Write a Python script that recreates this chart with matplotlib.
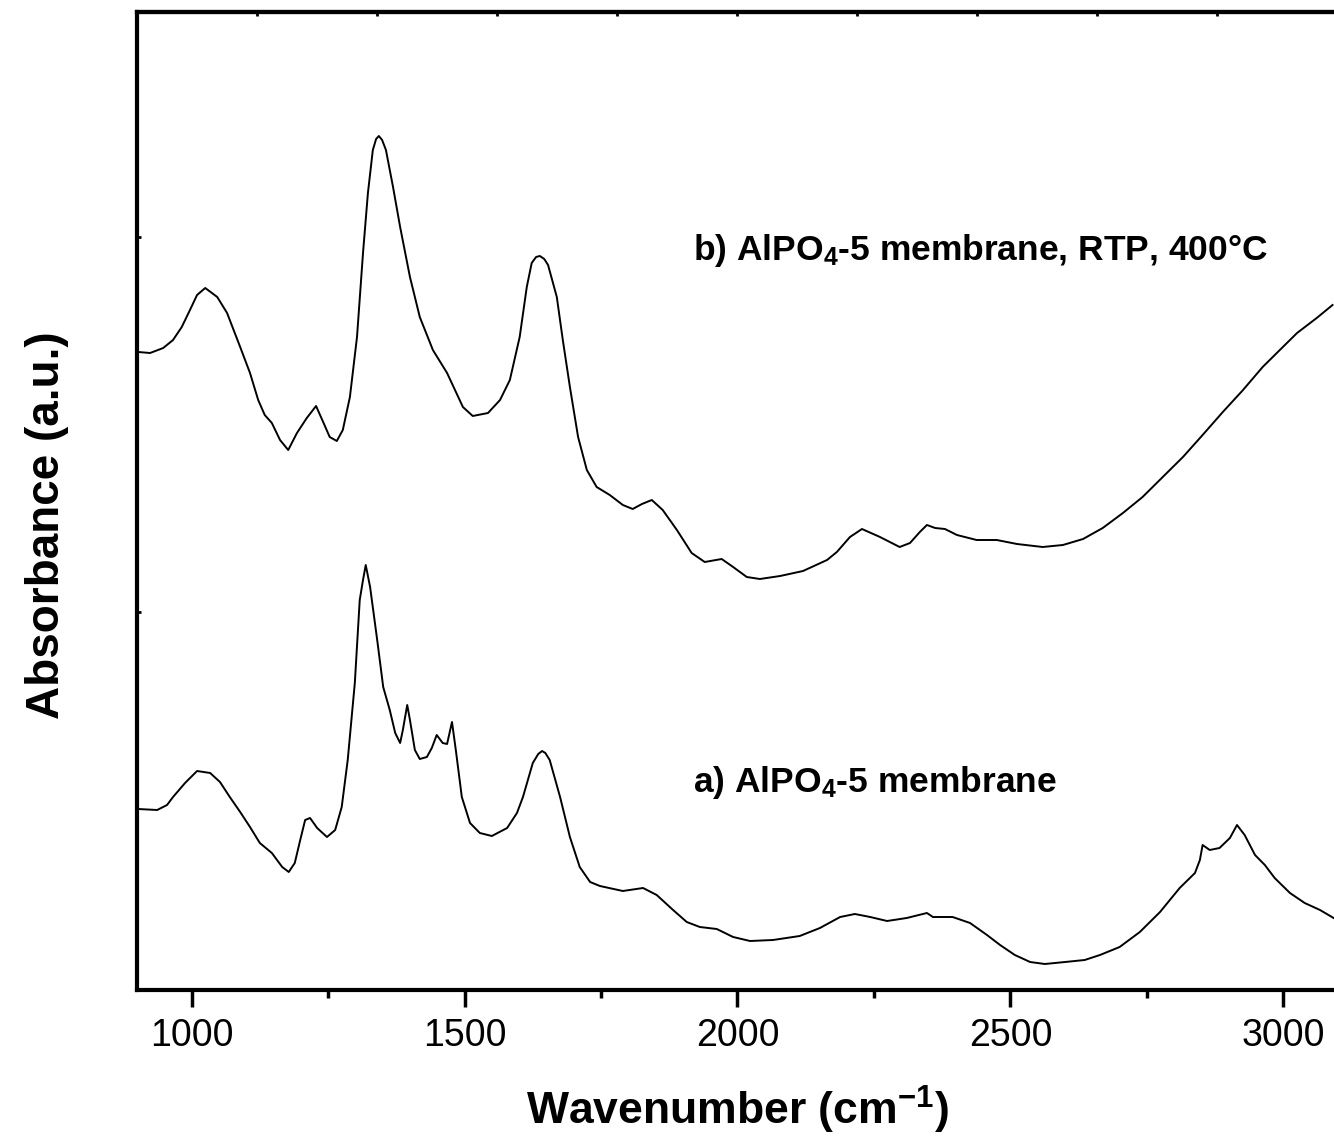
import matplotlib
matplotlib.use("Agg")
import matplotlib.pyplot as plt
from matplotlib.ticker import MultipleLocator, NullFormatter

plt.rcParams['font.family'] = ['Liberation Sans', 'DejaVu Sans']
plt.rcParams['mathtext.fontset'] = 'custom'
plt.rcParams['mathtext.rm'] = 'Liberation Sans:bold'
plt.rcParams['mathtext.bf'] = 'Liberation Sans:bold'
plt.rcParams['mathtext.default'] = 'bf'

# ---- data (wavenumber, absorbance a.u., offset stacked) ----
wn_b = [902, 924, 948, 966, 982, 997, 1010, 1025, 1047, 1065, 1089, 1107, 1122, 1134, 1147, 1162, 1177,
        1193, 1211, 1228, 1241, 1253, 1266, 1277, 1290, 1303, 1314, 1323, 1332, 1338, 1343, 1349, 1356, 1369, 1382,
        1400, 1418, 1442, 1468, 1497, 1515, 1543, 1565, 1583, 1601, 1614, 1623, 1631, 1638, 1646, 1653, 1669, 1680,
        1693, 1708, 1724, 1742, 1766, 1790, 1808, 1825, 1843, 1863, 1889, 1916, 1940, 1971, 1992, 2017,
        2041, 2078, 2120, 2164, 2182, 2206, 2228, 2261, 2297, 2316, 2334, 2347, 2362, 2380, 2402, 2438,
        2475, 2512, 2559, 2596, 2633, 2669, 2706, 2742, 2779, 2816, 2852, 2889, 2926, 2962, 2999, 3025,
        3061, 3090]
abs_b = [6.38, 6.37, 6.42, 6.50, 6.63, 6.80, 6.95, 7.02, 6.93, 6.77, 6.43, 6.17, 5.90, 5.75, 5.67, 5.50, 5.40,
         5.57, 5.72, 5.84, 5.68, 5.53, 5.49, 5.60, 5.93, 6.53, 7.37, 7.97, 8.40, 8.51, 8.54, 8.50, 8.40, 8.03, 7.63,
         7.13, 6.73, 6.40, 6.17, 5.83, 5.74, 5.77, 5.90, 6.10, 6.53, 7.03, 7.27, 7.33, 7.34, 7.31, 7.25, 6.93, 6.50,
         6.03, 5.53, 5.20, 5.03, 4.95, 4.85, 4.81, 4.86, 4.90, 4.80, 4.60, 4.37, 4.28, 4.31, 4.23, 4.13,
         4.11, 4.14, 4.19, 4.30, 4.38, 4.53, 4.61, 4.53, 4.43, 4.47, 4.58, 4.65, 4.62, 4.61, 4.55, 4.50,
         4.50, 4.46, 4.43, 4.45, 4.51, 4.62, 4.77, 4.93, 5.13, 5.33, 5.55, 5.78, 6.00, 6.23, 6.43, 6.57,
         6.72, 6.85]

wn_a = [902, 937, 955, 966, 988, 1010, 1034, 1052, 1070, 1089, 1107, 1125, 1147, 1166, 1178, 1189, 1199,
        1208, 1217, 1230, 1248, 1263, 1275, 1286, 1299, 1308, 1314, 1319, 1327, 1340, 1351, 1363, 1373,
        1382, 1387, 1395, 1400, 1409, 1418, 1431, 1440, 1449, 1460, 1468, 1477, 1484, 1495, 1510, 1528,
        1550, 1578, 1596, 1607, 1625, 1635, 1642, 1648, 1656, 1675, 1693, 1711, 1730, 1748, 1790, 1827, 1852, 1882,
        1907, 1931, 1962, 1992, 2023, 2065, 2114, 2151, 2188, 2215, 2243, 2274, 2310, 2347, 2358, 2394,
        2426, 2457, 2481, 2508, 2536, 2563, 2600, 2636, 2664, 2700, 2737, 2774, 2810, 2838, 2847, 2852,
        2865, 2883, 2902, 2915, 2929, 2948, 2966, 2984, 3012, 3039, 3067, 3092]
abs_a = [1.81, 1.80, 1.85, 1.93, 2.07, 2.19, 2.17, 2.08, 1.93, 1.78, 1.63, 1.47, 1.37, 1.23, 1.18, 1.27, 1.50,
         1.70, 1.72, 1.62, 1.53, 1.60, 1.83, 2.30, 3.07, 3.90, 4.10, 4.25, 4.03, 3.50, 3.03, 2.80, 2.57,
         2.47, 2.60, 2.85, 2.70, 2.40, 2.31, 2.33, 2.42, 2.55, 2.47, 2.46, 2.68, 2.40, 1.93, 1.67, 1.57,
         1.54, 1.62, 1.77, 1.93, 2.27, 2.36, 2.39, 2.37, 2.30, 1.93, 1.53, 1.23, 1.08, 1.04, 0.99, 1.02, 0.95, 0.80,
         0.68, 0.63, 0.61, 0.53, 0.49, 0.50, 0.54, 0.62, 0.73, 0.76, 0.73, 0.69, 0.72, 0.77, 0.73, 0.73,
         0.67, 0.55, 0.45, 0.35, 0.28, 0.26, 0.28, 0.30, 0.35, 0.43, 0.58, 0.78, 1.02, 1.17, 1.30, 1.45,
         1.40, 1.42, 1.52, 1.65, 1.55, 1.35, 1.25, 1.12, 0.97, 0.87, 0.80, 0.72]

label_a = r'a) AlPO$_\mathbf{4}$-5 membrane'
label_b = r'b) AlPO$_\mathbf{4}$-5 membrane, RTP, 400°C'
x_ticks = [1000, 1500, 2000, 2500, 3000]
top_ticks = [1119.8, 1339.6, 1559.3, 1779.1, 1998.9, 2218.7, 2438.5, 2658.2, 2878.0]

W, H = 1334, 1142
fig = plt.figure(figsize=(W / 100, H / 100), dpi=100)
ax = fig.add_axes([137 / W, 1 - 990 / H, (1338 - 137) / W, (990 - 12) / H])

ax.plot(wn_b, abs_b, color='black', lw=1.4)
ax.plot(wn_a, abs_a, color='black', lw=1.4)

ax.set_xlim(900, 3100)
ax.set_ylim(0, 9.78)

for s in ax.spines.values():
    s.set_linewidth(3)

ax.set_xticks(x_ticks)
ax.xaxis.set_minor_locator(MultipleLocator(250))
ax.tick_params(axis='x', which='major', direction='out', length=12, width=2.5, labelsize=27, pad=8)
ax.tick_params(axis='x', which='minor', direction='out', length=6, width=2.5)
ax.set_yticks([3.78, 7.53])
ax.tick_params(axis='y', which='major', direction='in', length=3, width=2, labelleft=False)
ax.yaxis.set_major_formatter(NullFormatter())

sec = ax.secondary_xaxis('top')
sec.set_xticks(top_ticks)
sec.tick_params(direction='in', length=3, width=2, labeltop=False)
sec.spines['top'].set_linewidth(3)

ax.set_xlabel(r'Wavenumber (cm$^\mathbf{-1}$)', fontsize=32, fontweight='bold', labelpad=22)
ax.set_ylabel('Absorbance (a.u.)', fontsize=33, fontweight='bold')
ax.yaxis.set_label_coords(-0.057, 0.475)

ax.text(1918, 7.30, label_b, fontsize=25.5, fontweight='bold', va='baseline', ha='left')
ax.text(1918, 1.98, label_a, fontsize=25.5, fontweight='bold', va='baseline', ha='left')

fig.savefig('out.png', dpi=100)
